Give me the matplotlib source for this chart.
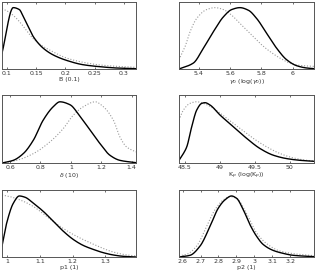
import numpy as np
import matplotlib
matplotlib.use("Agg")
import matplotlib.pyplot as plt

# ----------------------------
# DATA (posterior densities, normalised to peak ~0.92 of the panel height)
# ----------------------------
b_x = [0.0915, 0.1108, 0.1211, 0.128, 0.1365, 0.145, 0.162, 0.179, 0.202, 0.23, 0.259, 0.287, 0.3205]
b_solid = [0.236, 0.916, 0.887, 0.78, 0.63, 0.483, 0.31, 0.21, 0.128, 0.064, 0.034, 0.015, 0.005]
b_dot_x = [0.0915, 0.0995, 0.1108, 0.122, 0.1336, 0.145, 0.156, 0.1735, 0.202, 0.23, 0.259, 0.287, 0.3205]
b_dot = [0.90, 0.87, 0.80, 0.70, 0.57, 0.45, 0.37, 0.28, 0.163, 0.10, 0.06, 0.04, 0.025]

g_x = [5.272, 5.364, 5.428, 5.492, 5.556, 5.609, 5.662, 5.716, 5.769, 5.833, 5.897, 5.961, 6.025, 6.089, 6.136]
g_solid = [0.0, 0.089, 0.31, 0.557, 0.778, 0.887, 0.916, 0.877, 0.754, 0.532, 0.31, 0.138, 0.049, 0.015, 0.005]
g_dot_x = [5.272, 5.311, 5.343, 5.385, 5.449, 5.502, 5.556, 5.609, 5.662, 5.726, 5.790, 5.854, 5.918, 5.982, 6.046, 6.136]
g_dot = [0.138, 0.335, 0.557, 0.754, 0.887, 0.916, 0.887, 0.803, 0.68, 0.532, 0.384, 0.261, 0.163, 0.089, 0.054, 0.039]

d_x = [0.547, 0.621, 0.687, 0.753, 0.818, 0.884, 0.928, 0.994, 1.060, 1.125, 1.191, 1.257, 1.322, 1.428]
d_solid = [0.0, 0.039, 0.138, 0.335, 0.631, 0.828, 0.9, 0.857, 0.685, 0.488, 0.286, 0.113, 0.039, 0.005]
d_dot_x = [0.547, 0.643, 0.753, 0.862, 0.950, 1.016, 1.082, 1.16, 1.213, 1.279, 1.322, 1.366, 1.428]
d_dot = [0.0, 0.039, 0.138, 0.31, 0.507, 0.704, 0.828, 0.9, 0.828, 0.631, 0.384, 0.236, 0.163]

k_x = [48.419, 48.481, 48.529, 48.600, 48.671, 48.743, 48.790, 48.862, 49.005, 49.195, 49.386, 49.576, 49.767, 49.957, 50.148, 50.343]
k_solid = [0.039, 0.138, 0.236, 0.532, 0.778, 0.877, 0.887, 0.852, 0.704, 0.532, 0.36, 0.211, 0.113, 0.064, 0.039, 0.025]
k_dot_x = [48.419, 48.481, 48.576, 48.671, 48.767, 48.910, 49.100, 49.290, 49.481, 49.671, 49.862, 50.052, 50.243, 50.343]
k_dot = [0.631, 0.778, 0.877, 0.901, 0.877, 0.803, 0.655, 0.507, 0.36, 0.236, 0.138, 0.074, 0.039, 0.03]

p1_x = [0.9847, 0.999, 1.0193, 1.0376, 1.0549, 1.0803, 1.1109, 1.1414, 1.1719, 1.2024, 1.2329, 1.2634, 1.2939, 1.3244, 1.3549, 1.3936]
p1_solid = [0.163, 0.507, 0.803, 0.911, 0.892, 0.803, 0.680, 0.532, 0.384, 0.261, 0.172, 0.113, 0.064, 0.03, 0.01, 0.0]
p1_dot_x = [0.9847, 1.009, 1.0396, 1.0803, 1.1210, 1.1617, 1.2024, 1.2431, 1.2838, 1.3143, 1.3549, 1.3936]
p1_dot = [0.926, 0.901, 0.852, 0.754, 0.606, 0.458, 0.335, 0.236, 0.148, 0.089, 0.039, 0.015]

p2_x = [2.5795, 2.641, 2.697, 2.753, 2.799, 2.836, 2.873, 2.901, 2.939, 2.976, 3.013, 3.050, 3.106, 3.162, 3.218, 3.334]
p2_solid = [0.0, 0.025, 0.163, 0.458, 0.729, 0.852, 0.911, 0.877, 0.704, 0.483, 0.31, 0.187, 0.098, 0.054, 0.025, 0.005]
p2_dot_x = [2.5795, 2.622, 2.678, 2.734, 2.780, 2.827, 2.864, 2.901, 2.957, 3.013, 3.069, 3.143, 3.236, 3.334]
p2_dot = [0.015, 0.039, 0.163, 0.458, 0.704, 0.852, 0.901, 0.877, 0.65, 0.36, 0.2, 0.089, 0.044, 0.02]

panels = [
    (b_x, b_solid, b_dot_x, b_dot, (0.0915, 0.3205), [0.1, 0.15, 0.2, 0.25, 0.3], "B (0.1)"),
    (g_x, g_solid, g_dot_x, g_dot, (5.272, 6.136), [5.4, 5.6, 5.8, 6], r"$\gamma_0$ (log($\gamma_0$))"),
    (d_x, d_solid, d_dot_x, d_dot, (0.547, 1.428), [0.6, 0.8, 1, 1.2, 1.4], r"$\delta$ (10)"),
    (k_x, k_solid, k_dot_x, k_dot, (48.419, 50.343), [48.5, 49, 49.5, 50], r"K$_p$ (log(K$_p$))"),
    (p1_x, p1_solid, p1_dot_x, p1_dot, (0.9847, 1.3936), [1, 1.1, 1.2, 1.3], "p1 (1)"),
    (p2_x, p2_solid, p2_dot_x, p2_dot, (2.5795, 3.334), [2.6, 2.7, 2.8, 2.9, 3, 3.1, 3.2], "p2 (1)"),
]


def pchip(x, y, n=300):
    # shape preserving cubic, only used to draw the read points as a smooth line
    x = np.asarray(x, float)
    y = np.asarray(y, float)
    h = np.diff(x)
    d = np.diff(y) / h
    m = np.zeros_like(y)
    for k in range(1, len(x) - 1):
        if d[k - 1] * d[k] > 0:
            w1 = 2 * h[k] + h[k - 1]
            w2 = h[k] + 2 * h[k - 1]
            m[k] = (w1 + w2) / (w1 / d[k - 1] + w2 / d[k])
    m[0] = d[0]
    m[-1] = d[-1]
    xs = np.linspace(x[0], x[-1], n)
    idx = np.clip(np.searchsorted(x, xs) - 1, 0, len(x) - 2)
    t = (xs - x[idx]) / h[idx]
    h00 = 2 * t**3 - 3 * t**2 + 1
    h10 = t**3 - 2 * t**2 + t
    h01 = -2 * t**3 + 3 * t**2
    h11 = t**3 - t**2
    ys = h00 * y[idx] + h10 * h[idx] * m[idx] + h01 * y[idx + 1] + h11 * h[idx] * m[idx + 1]
    return xs, ys


# axes boxes in pixels: (left, right) and (top, bottom)
W, H = 316, 273
cols = [(2, 136), (179, 314)]
rows = [(2, 69), (95, 163), (190, 257)]

fig = plt.figure(figsize=(W / 100, H / 100), dpi=100)

for i, (xs, ys, dx, dy, xlim, ticks, label) in enumerate(panels):
    x0, x1 = cols[i % 2]
    y0, y1 = rows[i // 2]
    ax = fig.add_axes([x0 / W, 1 - y1 / H, (x1 - x0) / W, (y1 - y0) / H])
    ax.plot(*pchip(dx, dy), color="#9a9a9a", lw=0.8, ls=(0, (1, 1.6)))
    ax.plot(*pchip(xs, ys), color="black", lw=1.0)
    ax.set_xlim(*xlim)
    ax.set_ylim(0, 1)
    ax.set_xticks(ticks)
    ax.set_xticklabels([f"{t:g}" for t in ticks])
    ax.set_yticks([])
    ax.tick_params(axis="x", direction="in", length=1.5, width=0.5, top=True,
                   labelsize=4.5, pad=1.5, colors="#333333")
    ax.set_xlabel(label, fontsize=4.5, labelpad=0.5, color="#333333")
    for s in ax.spines.values():
        s.set_linewidth(0.7)
        s.set_color("#555555")

fig.savefig("out.png", dpi=100)
